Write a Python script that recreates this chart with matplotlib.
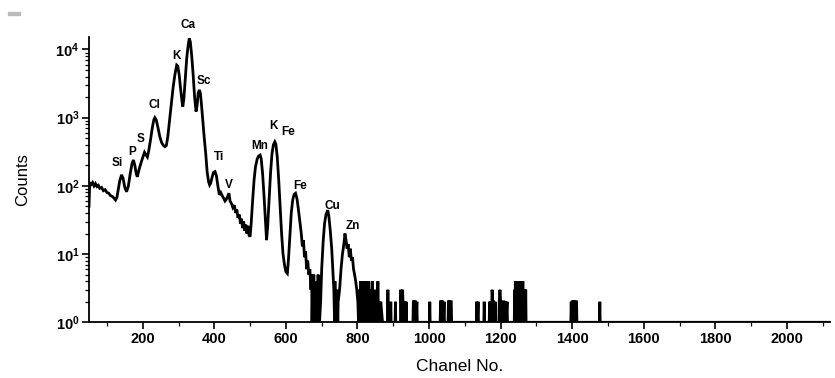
import numpy as np
import matplotlib
matplotlib.use("Agg")
import matplotlib.pyplot as plt
from matplotlib.ticker import MultipleLocator, LogLocator, FuncFormatter, NullFormatter
from matplotlib.patches import Rectangle

plt.rcParams['font.family'] = ['Liberation Sans', 'DejaVu Sans']
plt.rcParams['mathtext.fontset'] = 'custom'
plt.rcParams['mathtext.bf'] = 'Liberation Sans:bold'
plt.rcParams['mathtext.rm'] = 'Liberation Sans:bold'

# ---- data ----
# low-energy / main peak region
main_channels = [50, 52, 56, 60, 64, 68, 72, 76, 80, 85, 90, 95, 100, 105, 110, 115, 120, 124,
                 128, 132, 136, 141, 145, 150, 155, 160, 165, 170, 174, 178, 182, 185, 190, 195,
                 200, 205, 209, 213, 217, 222, 227, 231, 234, 238, 243, 248, 253, 258, 262, 266,
                 270, 275, 280, 285, 290, 295, 298, 302, 306, 310, 312, 315, 319, 323, 327, 330,
                 333, 337, 341, 345, 349, 352, 355, 358, 361, 364, 368, 372, 376, 380, 384, 387,
                 390, 394, 398, 402, 406, 410, 414, 418, 422, 426, 430, 434, 438, 441, 444, 448,
                 452, 456, 460, 463, 466, 470, 473, 476, 479, 482, 485, 488, 491, 494, 497, 500]
main_counts = [50, 110, 105, 112, 100, 108, 98, 102, 92, 95, 85, 88, 80, 78, 72, 70, 66, 62,
               68, 90, 120, 145, 130, 95, 82, 100, 150, 210, 240, 200, 150, 136, 175, 215,
               260, 310, 285, 265, 330, 480, 720, 930, 1000, 920, 700, 520, 430, 390, 376, 390,
               520, 900, 1600, 2800, 4300, 5900, 5700, 4200, 2600, 1700, 1450, 1900, 3800, 7500, 11500, 14500,
               13000, 8000, 4200, 2000, 1230, 1500, 2300, 2550, 2300, 1600, 900, 500, 300, 160, 115, 103,
               110, 135, 158, 162, 140, 100, 74, 80, 72, 66, 60, 64, 72, 78, 60, 55,
               48, 52, 40, 45, 34, 38, 28, 33, 24, 30, 22, 27, 20, 26, 19, 18]

# transition-metal peak region
mid_channels = [503, 507, 511, 515, 520, 524, 528, 531, 535, 539, 543, 546, 549, 553, 557, 561,
                565, 569, 572, 576, 580, 584, 588, 592, 596, 600, 604, 607, 611, 615, 619, 623,
                627, 631, 635, 639, 643, 646, 649, 652, 655, 658, 661, 664, 667, 670, 672, 673,
                675, 676, 678, 679, 681, 682, 684, 685, 687, 688, 690, 691, 693, 694, 697, 700,
                704, 708, 712, 717, 720, 724, 728, 731, 734, 736, 737, 739, 740, 742, 743, 745,
                746, 750, 754, 758, 762, 765, 768, 771, 774, 777, 780, 783, 786, 789, 792, 795,
                798, 801]
mid_counts = [28, 60, 120, 190, 250, 275, 283, 250, 150, 70, 30, 16, 25, 60, 150, 290,
              400, 443, 410, 260, 120, 50, 20, 10, 7, 5.5, 5.2, 8, 18, 40, 62, 75,
              78, 65, 45, 30, 20, 13, 16, 9, 11, 6, 8, 5, 6, 3, 5, 1,
              4, 1, 5, 1, 3, 1, 4, 1, 3, 1, 5, 1, 3, 1, 2, 6,
              15, 28, 38, 44, 36, 22, 12, 6, 3, 1, 4, 1, 2, 1, 3, 1,
              2, 3, 6, 10, 14, 20, 16, 12, 14, 9, 12, 8, 9, 6, 5, 4,
              3, 2]

# sparse high-channel tail
tail_channels = [803, 805, 807, 809, 811, 813, 815, 817, 819, 821, 823, 825, 827, 829, 831, 833,
                 835, 837, 839, 841, 843, 845, 847, 849, 851, 853, 855, 857, 859, 861, 863, 865,
                 870, 884, 885, 886, 892, 893, 894, 905, 906, 907,
                 920, 921, 922, 923, 925, 926, 927, 929, 930, 932, 933, 935, 936, 937,
                 955, 956, 958, 959, 960, 962, 963, 966, 967,
                 1001, 1002, 1003,
                 1031, 1032, 1034, 1035, 1036, 1038, 1040, 1042, 1043,
                 1053, 1054, 1056, 1057, 1058, 1060, 1062, 1063,
                 1132, 1133, 1135, 1137, 1138,
                 1153, 1154, 1155,
                 1168, 1169, 1171, 1172, 1174, 1176, 1178, 1180, 1183, 1185, 1186,
                 1195, 1196, 1198, 1200, 1201, 1203, 1204, 1207, 1209, 1210, 1213, 1215, 1218, 1219,
                 1238, 1239, 1240, 1241, 1242, 1243, 1244, 1245, 1246, 1247, 1248, 1249, 1250,
                 1251, 1252, 1253, 1254, 1255, 1256, 1257, 1258, 1259, 1260, 1261, 1262, 1263,
                 1264, 1265, 1266, 1267, 1268, 1269, 1270, 1271, 1272,
                 1396, 1397, 1399, 1400, 1401, 1403, 1404, 1405, 1407, 1408, 1410, 1412, 1413,
                 1476, 1477, 1478, 2120]
tail_counts = [1, 3, 1, 4, 1, 2, 4, 1, 3, 1, 4, 2, 3, 1, 4, 1,
               2, 3, 1, 4, 1, 3, 1, 2, 1, 3, 1, 4, 1, 2, 1, 2,
               1, 1, 3, 1, 1, 2, 1, 1, 2, 1,
               1, 3, 2, 1, 2, 3, 2, 1, 2, 1, 2, 1, 2, 1,
               1, 2, 2, 1, 2, 2, 1, 2, 1,
               1, 2, 1,
               1, 2, 2, 1, 2, 2, 1, 2, 1,
               1, 2, 2, 1, 2, 2, 2, 1,
               1, 2, 1, 2, 1,
               1, 2, 1,
               1, 2, 1, 2, 1, 3, 2, 2, 1, 2, 1,
               1, 2, 3, 2, 1, 2, 1, 2, 2, 1, 2, 1, 2, 1,
               1, 3, 1, 4, 1, 3, 4, 1, 4, 2, 4, 1, 3,
               1, 4, 1, 4, 2, 3, 1, 4, 1, 4, 2, 4, 1,
               3, 1, 3, 1, 3, 1, 3, 1, 1,
               1, 2, 1, 2, 2, 1, 2, 2, 1, 2, 2, 2, 1,
               1, 2, 1, 1]

# peak labels (element, channel, counts)
label_texts = ['Si', 'P', 'S', 'Cl', 'K', 'Ca', 'Sc', 'Ti', 'V', 'Mn', 'K', 'Fe', 'Fe', 'Cu', 'Zn']
label_channels = [128, 170, 195, 233, 295, 328, 371, 412, 442, 526, 565, 606, 639, 730, 788]
label_counts = [217, 319, 495, 1510, 8030, 22900, 3450, 268, 103, 388, 755, 611, 100, 51, 26]

x_ticks = [200, 400, 600, 800, 1000, 1200, 1400, 1600, 1800, 2000]

channels = np.array(main_channels + mid_channels + tail_channels, dtype=float)
counts = np.array(main_counts + mid_counts + tail_counts, dtype=float)

fig = plt.figure(figsize=(8.35, 3.78), dpi=100)
ax = fig.add_axes([0.1066, 0.1474, 0.8874, 0.7548])
ax.plot(channels, counts, color='black', lw=2.0, solid_joinstyle='miter')

ax.set_yscale('log')
ax.set_xlim(50, 2120)
ax.set_ylim(1, 15250)

for sp in ['top', 'right']:
    ax.spines[sp].set_visible(False)
for sp in ['left', 'bottom']:
    ax.spines[sp].set_linewidth(1.3)

ax.set_xticks(x_ticks)
ax.xaxis.set_minor_locator(MultipleLocator(100))
ax.yaxis.set_major_locator(LogLocator(base=10, numticks=10))
ax.yaxis.set_minor_locator(LogLocator(base=10, subs=np.arange(2, 10), numticks=20))
ax.yaxis.set_major_formatter(FuncFormatter(lambda v, p: r'$\mathbf{10^{%d}}$' % round(np.log10(v))))
ax.yaxis.set_minor_formatter(NullFormatter())
ax.tick_params(which='major', direction='out', length=5, width=1.2, labelsize=10.5, pad=2)
ax.tick_params(which='minor', direction='out', length=3, width=0.9)
for lab in ax.get_xticklabels():
    lab.set_fontweight('bold')

ax.set_xlabel('Chanel No.', fontsize=12.5, labelpad=9)
ax.set_ylabel('Counts', fontsize=12, labelpad=18)

for t, cx, cy in zip(label_texts, label_channels, label_counts):
    ax.text(cx, cy, t, fontsize=8.5, fontweight='bold', ha='center', va='center', clip_on=False)

fig.patches.append(Rectangle((8 / 835, 1 - 15 / 378), 12 / 835, 3 / 378,
                             transform=fig.transFigure, color='#bbbbbb', figure=fig))

fig.savefig('out.png', dpi=100)
